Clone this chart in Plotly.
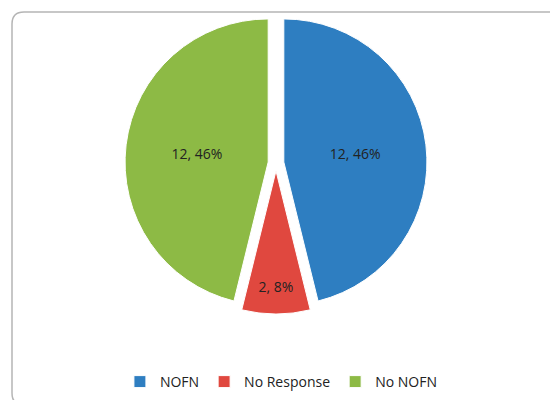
import plotly.graph_objects as go

labels = ["NOFN", "No Response", "No NOFN"]
values = [12, 2, 12]
colors = ["#2E7EC1", "#E0483F", "#8DBA45"]

W, H = 558, 400

fig = go.Figure()
fig.add_trace(go.Pie(
    labels=labels,
    values=values,
    sort=False,
    direction="clockwise",
    rotation=0,
    pull=[0.055, 0.055, 0.055],
    marker=dict(colors=colors, line=dict(color="white", width=1)),
    texttemplate="%{value}, %{percent:.0%}",
    textposition="inside",
    insidetextorientation="horizontal",
    textfont=dict(family="Open Sans", size=14, color="#222222"),
    domain=dict(x=[115 / W, 421 / W], y=[1 - 306 / H, 1 - 4 / H]),
    hoverinfo="label+value+percent",
))

# rounded frame
x0, y0, x1, y1 = 4 / W, 1 - 4 / H, 554 / W, 1 - 397 / H
rx, ry = 12 / W, 12 / H
path = (
    f"M {x0+rx},{y0} L {x1-rx},{y0} Q {x1},{y0} {x1},{y0-ry} "
    f"L {x1},{y1+ry} Q {x1},{y1} {x1-rx},{y1} "
    f"L {x0+rx},{y1} Q {x0},{y1} {x0},{y1+ry} "
    f"L {x0},{y0-ry} Q {x0},{y0} {x0+rx},{y0} Z"
)

fig.update_layout(
    width=W, height=H,
    margin=dict(l=0, r=0, t=0, b=0),
    paper_bgcolor="white",
    showlegend=True,
    legend=dict(
        orientation="h",
        x=0.49, xanchor="center",
        y=0.065, yanchor="middle",
        font=dict(family="Open Sans", size=14, color="#222222"),
        itemwidth=30,
        traceorder="normal",
    ),
    shapes=[dict(type="path", xref="paper", yref="paper", path=path,
                 line=dict(color="#B5B5B5", width=1.5))],
)

fig.write_html("out.html")
